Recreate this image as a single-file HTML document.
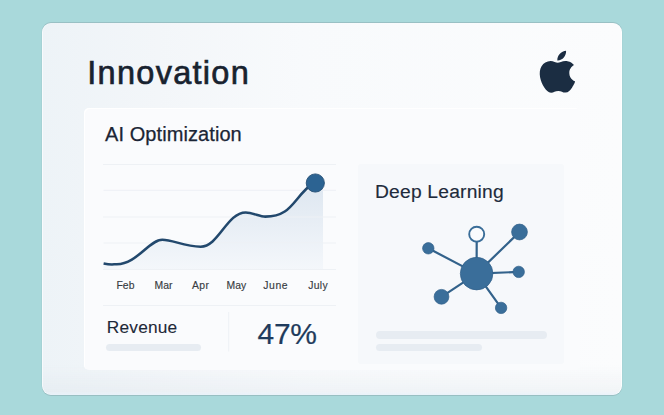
<!DOCTYPE html>
<html>
<head>
<meta charset="utf-8">
<style>
  html, body { margin:0; padding:0; }
  body { width:664px; height:415px; overflow:hidden; background:#a9d9db; position:relative;
    font-family:"Liberation Sans", "DejaVu Sans", sans-serif; }
  .abs { position:absolute; }
  #card { left:42.3px; top:22.8px; width:579.3px; height:372.4px; border-radius:9px;
    background:
      linear-gradient(180deg, rgba(255,255,255,0) 0%, rgba(255,255,255,0) 92%, rgba(214,222,230,0.25) 99%, rgba(232,242,250,0.9) 100%),
      linear-gradient(90deg, #edf3f7 0%, #f3f6f9 20%, #f8fafc 45%, #fbfcfd 100%);
    box-shadow: 0 -1px 0 rgba(120,140,148,0.32), 0 1px 0 rgba(120,140,148,0.34), -0.5px 0 0 rgba(120,140,148,0.15), 0.5px 0 0 rgba(120,140,148,0.1), inset 1px 0 0 rgba(255,255,255,0.6), inset -1px 0 0 rgba(255,255,255,0.8); }
  #panel { left:84px; top:108px; width:496px; height:261.5px; border-radius:5px; box-shadow: inset 1px 1px 0 rgba(255,255,255,0.9);
    background:#fafbfd; }
  #dl { left:358px; top:163.7px; width:206px; height:200.5px; border-radius:3px; background:#f6f8fb; }
  .t { position:absolute; white-space:nowrap; line-height:1; }
  #title { left:87.3px; top:56.5px; font-size:32.5px; letter-spacing:1.28px; color:#18222f; -webkit-text-stroke:0.65px #18222f; }
  #aiopt { left:105px; top:123.9px; font-size:20px; letter-spacing:0.08px; color:#1b2535; -webkit-text-stroke:0.25px #1b2535; }
  #deep { left:375.1px; top:182.5px; font-size:18px; letter-spacing:0.2px; transform:scaleX(1.068); transform-origin:0 0; color:#1e2b3b; -webkit-text-stroke:0.15px #1e2b3b; }
  .m { font-size:10.4px; color:#383c42; top:280.5px; -webkit-text-stroke:0.15px #383c42; }
  #rev { left:106.8px; top:318.7px; font-size:17.3px; letter-spacing:0.2px; color:#1e2838; -webkit-text-stroke:0.1px #1e2838; }
  #pct { left:257.5px; top:318.7px; font-size:30px; letter-spacing:-0.3px; color:#1f3b5c; -webkit-text-stroke:0.2px #1f3b5c; }
  .bar { position:absolute; background:#e7ecf2; border-radius:4px; }
</style>
</head>
<body>
<div id="card" class="abs"></div>
<div id="panel" class="abs"></div>
<div id="dl" class="abs"></div>

<div id="title" class="t">Innovation</div>
<div id="aiopt" class="t">AI Optimization</div>
<div id="deep" class="t">Deep Learning</div>

<div class="t m" style="left:116.5px">Feb</div>
<div class="t m" style="left:154.5px">Mar</div>
<div class="t m" style="left:192px;letter-spacing:0.4px">Apr</div>
<div class="t m" style="left:226.5px">May</div>
<div class="t m" style="left:263.3px;letter-spacing:0.6px">June</div>
<div class="t m" style="left:308.2px;letter-spacing:0.35px">July</div>

<div id="rev" class="t">Revenue</div>
<div id="pct" class="t">47%</div>

<div class="bar" style="left:106px;top:344px;width:95px;height:6.5px;"></div>
<div class="bar" style="left:376px;top:331px;width:171px;height:8px;"></div>
<div class="bar" style="left:376px;top:344.2px;width:106px;height:7px;"></div>

<svg class="abs" style="left:0;top:0" width="664" height="415" viewBox="0 0 664 415">
  <defs>
    <linearGradient id="fg" gradientUnits="userSpaceOnUse" x1="0" y1="182" x2="0" y2="270">
      <stop offset="0" stop-color="#dde6f0"/>
      <stop offset="1" stop-color="#f4f7fb"/>
    </linearGradient>
  </defs>
  <!-- fill -->
  <path d="M103.60,263.50 C112.23,265.18 112.92,264.20 116.81,264.20 C136.75,264.20 149.35,239.72 162.30,239.72 C172.97,239.72 184.31,246.66 200.66,246.66 C218.67,246.66 226.94,212.46 245.75,212.46 C252.42,212.46 259.80,216.63 265.25,216.63 C293.07,216.63 292.77,197.04 315.20,181.40 L323,181.4 L323,270 L103.6,270 Z" fill="url(#fg)"/>
  <!-- grid -->
  <g stroke="#eef1f5" stroke-width="1">
    <line x1="103" y1="164.5" x2="336" y2="164.5"/>
    <line x1="103.5" y1="190.3" x2="336" y2="190.3"/>
    <line x1="103" y1="217" x2="336" y2="217"/>
    <line x1="103.5" y1="243" x2="336" y2="243"/>
    <line x1="103" y1="269.5" x2="336" y2="269.5"/>
    <line x1="103" y1="305.5" x2="336" y2="305.5"/>
  </g>
  <line x1="228.7" y1="312" x2="228.7" y2="351.5" stroke="#eef1f5" stroke-width="1"/>
  <!-- curve -->
  <path d="M103.60,263.50 C112.23,265.18 112.92,264.20 116.81,264.20 C136.75,264.20 149.35,239.72 162.30,239.72 C172.97,239.72 184.31,246.66 200.66,246.66 C218.67,246.66 226.94,212.46 245.75,212.46 C252.42,212.46 259.80,216.63 265.25,216.63 C293.07,216.63 292.77,197.04 315.20,181.40" fill="none" stroke="#22486d" stroke-width="2.55" stroke-linecap="butt"/>
  <circle cx="315.3" cy="183" r="9.1" fill="#2c6392" stroke="#264f75" stroke-width="0.9"/>

  <!-- network -->
  <g stroke="#33628b" stroke-width="2.2" stroke-linecap="round">
    <line x1="476.6" y1="273.6" x2="476.7" y2="242"/>
    <line x1="476.6" y1="273.6" x2="519.5" y2="232"/>
    <line x1="476.6" y1="273.6" x2="428.3" y2="248.3"/>
    <line x1="476.6" y1="273.6" x2="518.7" y2="271.9"/>
    <line x1="476.6" y1="273.6" x2="441.5" y2="296.8"/>
    <line x1="476.6" y1="273.6" x2="501.1" y2="307.9"/>
  </g>
  <g fill="#3a6e9a" stroke="#31608a" stroke-width="0.7">
    <circle cx="476.6" cy="273.6" r="16.3"/>
    <circle cx="519.5" cy="232" r="7.9"/>
    <circle cx="428.3" cy="248.3" r="5.7"/>
    <circle cx="518.7" cy="271.9" r="5.7"/>
    <circle cx="441.5" cy="296.8" r="7.4"/>
    <circle cx="501.1" cy="307.9" r="5.7"/>
  </g>
  <circle cx="476.7" cy="234.2" r="7.5" fill="#fafbfd" stroke="#3a6d98" stroke-width="1.9"/>

  <!-- apple -->
  <g transform="translate(535.7,50.8) scale(1.81,1.745)">
    <path fill="#1b2d42" d="M12.152 6.896c-.948 0-2.415-1.078-3.96-1.04-2.04.027-3.91 1.183-4.961 3.014-2.117 3.675-.546 9.103 1.519 12.09 1.013 1.454 2.208 3.09 3.792 3.039 1.52-.065 2.09-.987 3.935-.987 1.831 0 2.35.987 3.96.948 1.637-.026 2.676-1.48 3.676-2.948 1.156-1.688 1.636-3.325 1.662-3.415-.039-.013-3.182-1.221-3.220-4.857-.026-3.040 2.480-4.494 2.597-4.559-1.429-2.090-3.623-2.324-4.390-2.376-2-.156-3.675 1.090-4.610 1.090zM15.530 3.830c.843-1.012 1.400-2.427 1.245-3.830-1.207.052-2.662.805-3.532 1.818-.780.896-1.454 2.338-1.273 3.714 1.338.104 2.715-.688 3.559-1.701"/>
  </g>
</svg>
</body>
</html>
